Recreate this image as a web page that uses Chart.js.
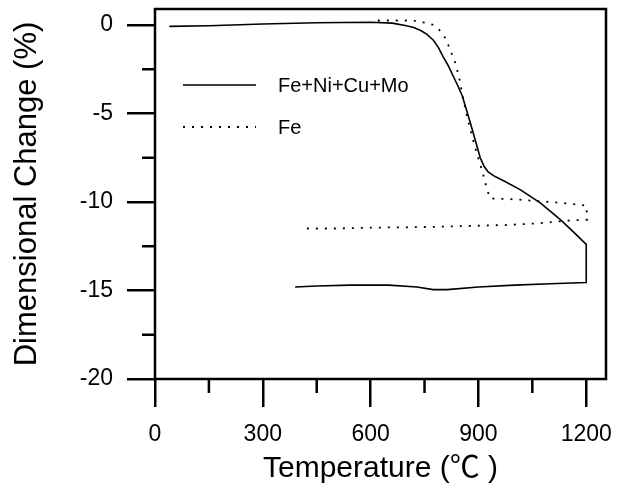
<!DOCTYPE html>
<html>
<head>
<meta charset="utf-8">
<script src="https://cdn.jsdelivr.net/npm/chart.js@4/dist/chart.umd.min.js"></script>
<style>
  html, body { margin: 0; padding: 0; background: #fff; }
  #wrap { width: 618px; height: 484px; position: relative; }
</style>
</head>
<body>
<div id="wrap"><canvas id="dilChart"></canvas></div>
<script>
// Fe+Ni+Cu+Mo: heating then cooling
const alloyTemp = [40, 150, 300, 450, 600, 660, 700, 720, 738, 756, 774, 788, 802, 816, 830, 843, 855, 877, 905, 916, 927, 945, 970, 1016, 1072, 1128, 1170, 1200,
                   1200, 1100, 1000, 900, 813, 774, 729, 650, 543, 450, 390];
const alloyChange = [-0.08, -0.05, 0.05, 0.12, 0.15, 0.1, -0.05, -0.15, -0.3, -0.52, -0.85, -1.25, -1.8, -2.3, -2.9, -3.45, -4.0, -5.5, -7.5, -8.0, -8.3, -8.55, -8.8, -9.3, -10.05, -11.0, -11.8, -12.4,
                     -14.55, -14.62, -14.7, -14.8, -14.95, -14.95, -14.8, -14.7, -14.7, -14.75, -14.8];

// Fe: heating then cooling
const feTemp = [620, 700, 730, 746, 762, 774, 787, 799, 811, 821, 835, 849, 855, 871, 891, 910, 924, 933, 1000, 1063, 1130, 1200,
                1203, 1150, 1072, 979, 885, 793, 700, 600, 500, 418];
const feChange = [0.25, 0.25, 0.22, 0.15, 0.08, 0.0, -0.2, -0.45, -0.85, -1.4, -2.1, -3.2, -3.95, -5.4, -6.95, -8.2, -9.3, -9.8, -9.85, -9.95, -10.05, -10.2,
                  -11.0, -11.05, -11.2, -11.3, -11.35, -11.4, -11.43, -11.45, -11.5, -11.5];

const xMajor = [0, 300, 600, 900, 1200];
const xMinor = [150, 450, 750, 1050];
const yMajor = [0, -5, -10, -15, -20];
const yMinor = [-2.5, -7.5, -12.5, -17.5];

const seriesNames = ['Fe+Ni+Cu+Mo', 'Fe'];

const FONT = "'Liberation Sans', Arial, 'Noto Sans CJK SC', sans-serif";

function toPoints(xs, ys) {
    return xs.map((x, i) => ({ x: x, y: ys[i] }));
}

// box frame + minor ticks
const framePlugin = {
    id: 'frame',
    afterDraw(chart) {
        const ctx = chart.ctx;
        const a = chart.chartArea;
        const xs = chart.scales.x, ys = chart.scales.y;
        ctx.save();
        ctx.strokeStyle = '#000';
        ctx.lineWidth = 2.5;
        ctx.strokeRect(a.left, a.top, a.right - a.left, a.bottom - a.top);
        ctx.beginPath();
        xMinor.forEach(v => {
            const px = xs.getPixelForValue(v);
            ctx.moveTo(px, a.bottom);
            ctx.lineTo(px, a.bottom + 14);
        });
        yMinor.forEach(v => {
            const py = ys.getPixelForValue(v);
            ctx.moveTo(a.left, py);
            ctx.lineTo(a.left - 13, py);
        });
        ctx.stroke();
        ctx.restore();
    }
};

// legend inside the plot
const insideLegend = {
    id: 'insideLegend',
    afterDatasetsDraw(chart) {
        const ctx = chart.ctx;
        const a = chart.chartArea;
        const x0 = a.left + 28, x1 = a.left + 101, tx = a.left + 123;
        const rows = [a.top + 76, a.top + 118];
        ctx.save();
        chart.data.datasets.forEach((ds, i) => {
            const y = rows[i];
            ctx.strokeStyle = ds.borderColor;
            ctx.lineWidth = ds.borderWidth;
            ctx.setLineDash(ds.borderDash || []);
            ctx.beginPath();
            ctx.moveTo(x0, y);
            ctx.lineTo(x1, y);
            ctx.stroke();
            ctx.setLineDash([]);
            ctx.fillStyle = '#000';
            ctx.font = '20px ' + FONT;
            ctx.textBaseline = 'middle';
            ctx.fillText(ds.label, tx, y + 1);
        });
        ctx.restore();
    }
};

const ctx = document.getElementById('dilChart').getContext('2d');
const chart = new Chart(ctx, {
    type: 'line',
    data: {
        datasets: [
            {
                label: seriesNames[0],
                data: toPoints(alloyTemp, alloyChange),
                borderColor: '#000',
                borderWidth: 1.6,
                pointRadius: 0,
                tension: 0,
                fill: false
            },
            {
                label: seriesNames[1],
                data: toPoints(feTemp, feChange),
                borderColor: '#000',
                borderWidth: 1.8,
                borderDash: [2, 7],
                pointRadius: 0,
                tension: 0,
                fill: false
            }
        ]
    },
    options: {
        responsive: true,
        maintainAspectRatio: false,
        animation: false,
        layout: { padding: { left: 0, right: 12, top: 9, bottom: 0 } },
        plugins: {
            legend: { display: false },
            tooltip: { enabled: false }
        },
        scales: {
            x: {
                type: 'linear',
                min: 0,
                max: 1255,
                afterBuildTicks: s => { s.ticks = xMajor.map(v => ({ value: v })); },
                afterFit: s => { s.height = 105; s.paddingLeft = 0; s.paddingRight = 0; },
                grid: {
                    drawOnChartArea: false,
                    color: '#000',
                    lineWidth: 2.5,
                    tickLength: 28
                },
                border: { display: false },
                ticks: {
                    color: '#000',
                    font: { family: FONT, size: 23 },
                    padding: 14,
                    maxRotation: 0,
                    callback: v => String(v)
                },
                title: {
                    display: true,
                    text: 'Temperature (℃ )',
                    color: '#000',
                    font: { family: FONT, size: 30 },
                    padding: { top: 0, bottom: -3 }
                }
            },
            y: {
                type: 'linear',
                min: -20,
                max: 0.9,
                afterBuildTicks: s => { s.ticks = yMajor.map(v => ({ value: v })); },
                afterFit: s => { s.width = 155; s.paddingTop = 0; s.paddingBottom = 0; },
                grid: {
                    drawOnChartArea: false,
                    color: '#000',
                    lineWidth: 2.5,
                    tickLength: 28
                },
                border: { display: false },
                ticks: {
                    color: '#000',
                    font: { family: FONT, size: 23 },
                    padding: 14,
                    callback: v => String(v)
                },
                title: {
                    display: true,
                    text: 'Dimensional Change (%)',
                    color: '#000',
                    font: { family: FONT, size: 31 },
                    padding: { top: 9, bottom: 2 }
                }
            }
        }
    },
    plugins: [framePlugin, insideLegend]
});
</script>
</body>
</html>
